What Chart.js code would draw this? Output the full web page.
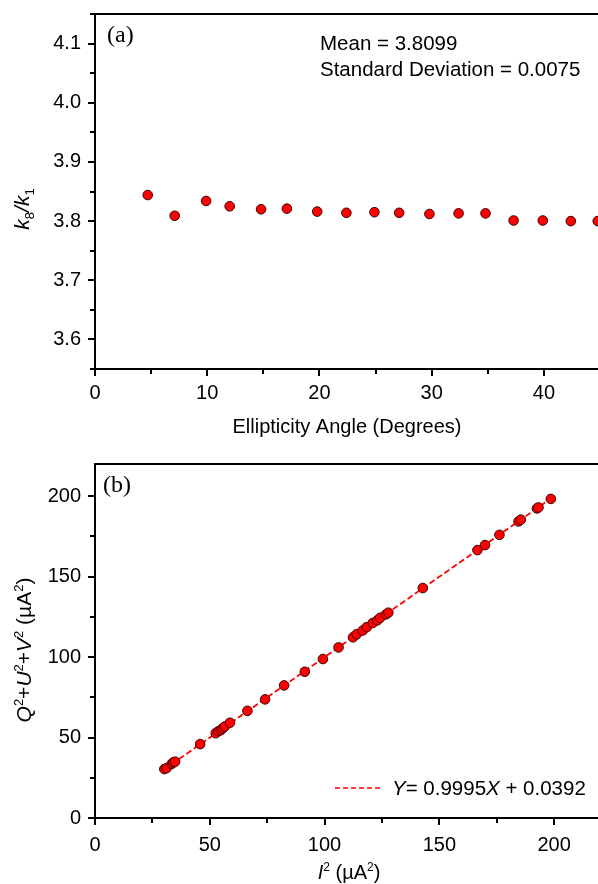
<!DOCTYPE html>
<html>
<head>
<meta charset="utf-8">
<script src="https://cdn.jsdelivr.net/npm/chart.js@4.4.1/dist/chart.umd.min.js"></script>
<style>
  html, body { margin: 0; padding: 0; background: #fff; width: 598px; height: 884px; overflow: hidden; }
  canvas { position: absolute; left: 0; }
  #chartA { top: 0; }
  #chartB { top: 442px; }
</style>
</head>
<body>
<canvas id="chartA" width="640" height="442"></canvas>
<canvas id="chartB" width="640" height="442"></canvas>
<script>
// (a) k8/k1 against ellipticity angle
var angleDeg = [4.7, 7.1, 9.9, 12.0, 14.8, 17.1, 19.8, 22.4, 24.9, 27.1, 29.8, 32.4, 34.8, 37.3, 39.9, 42.4, 44.8];
var ratioK8K1 = [3.844, 3.809, 3.834, 3.825, 3.820, 3.821, 3.816, 3.814, 3.815, 3.814, 3.812, 3.813, 3.813, 3.801, 3.801, 3.800, 3.800];
var angleTicks = { min: 0, max: 45, step: 5, major: 10 };
var ratioTicks = { min: 3.55, max: 4.15, step: 0.05, major: 0.1 };

// (b) Q^2+U^2+V^2 against I^2, with linear fit
var intensitySq = [30.2, 31.2, 33.4, 34.1, 34.9, 45.8, 52.6, 53.7, 54.8, 55.6, 56.6, 58.8,
  66.4, 74.1, 82.4, 91.4, 99.3, 106.1, 112.4, 114.0, 116.6, 118.4, 121.0, 123.0, 124.2,
  126.7, 127.8, 142.8, 166.6, 169.9, 176.2, 184.5, 185.5, 192.5, 193.2, 198.6];
var polarSum = [30.4, 31.0, 33.6, 34.5, 35.0, 45.9, 52.7, 53.9, 54.6, 55.8, 56.9, 59.2,
  66.6, 73.7, 82.4, 90.9, 98.8, 106.0, 112.3, 114.2, 116.5, 118.6, 121.2, 122.8, 124.4,
  126.5, 127.6, 142.9, 166.5, 169.6, 176.0, 184.3, 185.4, 192.4, 193.0, 198.3];
var fitX = [30.2, 198.6];
var fitY = [30.2, 198.5];
var intensityTicks = { min: 0, max: 220, step: 25, major: 50 };
var polarTicks = { min: 0, max: 220, step: 25, major: 50 };

var SANS = '"Liberation Sans", Arial, sans-serif';
var SERIF = '"Liberation Serif", "Times New Roman", serif';

function isMajor(v, major) {
  var r = v / major;
  return Math.abs(r - Math.round(r)) < 1e-6;
}
function inRange(v, scale) {
  return v >= scale.min - 1e-9 && v <= scale.max + 1e-9;
}

// text made of pieces: [text, italic, shift] shift -1 = subscript, 1 = superscript
function richFont(p, size) {
  return (p[1] ? 'italic ' : '') + (p[2] ? Math.round(size * 0.62) : size) + 'px ' + SANS;
}
function richWidth(ctx, parts, size) {
  var w = 0;
  parts.forEach(function (p) {
    ctx.font = richFont(p, size);
    w += ctx.measureText(p[0]).width;
  });
  return w;
}
function drawRich(ctx, parts, x, y, size, center) {
  var cx = center ? x - richWidth(ctx, parts, size) / 2 : x;
  ctx.textAlign = 'left';
  ctx.textBaseline = 'alphabetic';
  parts.forEach(function (p) {
    ctx.font = richFont(p, size);
    var dy = p[2] > 0 ? -size * 0.4 : p[2] < 0 ? size * 0.22 : 0;
    ctx.fillText(p[0], cx, y + dy);
    cx += ctx.measureText(p[0]).width;
  });
}

// frame line on top plus outward major / minor ticks
var frameTicks = {
  id: 'frameTicks',
  afterDraw: function (chart, args, opts) {
    var ctx = chart.ctx, a = chart.chartArea, sx = chart.scales.x, sy = chart.scales.y;
    ctx.save();
    ctx.strokeStyle = '#000';
    ctx.lineWidth = 2;
    ctx.beginPath();
    ctx.moveTo(a.left - 1, a.top);
    ctx.lineTo(a.right + 1, a.top);
    sx.ticks.forEach(function (t) {
      if (!inRange(t.value, sx)) return;
      var p = Math.round(sx.getPixelForValue(t.value));
      var len = isMajor(t.value, opts.xMajor) ? 7 : 5;
      ctx.moveTo(p, a.bottom);
      ctx.lineTo(p, a.bottom + len);
    });
    sy.ticks.forEach(function (t) {
      if (!inRange(t.value, sy)) return;
      var p = Math.round(sy.getPixelForValue(t.value));
      var len = isMajor(t.value, opts.yMajor) ? 7 : 5;
      ctx.moveTo(a.left, p);
      ctx.lineTo(a.left - len, p);
    });
    ctx.stroke();
    ctx.restore();
  }
};

function axisOpts(spec, fixed, horizontal, pad, fmt) {
  return {
    type: 'linear',
    min: spec.min,
    max: spec.max,
    afterFit: function (s) {
      if (horizontal) { s.height = fixed; } else { s.width = fixed; }
      s.paddingTop = 0; s.paddingBottom = 0; s.paddingLeft = 0; s.paddingRight = 0;
    },
    grid: { display: true, drawOnChartArea: false, drawTicks: true, tickLength: 6, color: 'rgba(0,0,0,0)' },
    border: { display: true, color: '#000', width: 2 },
    ticks: {
      stepSize: spec.step,
      includeBounds: false,
      autoSkip: false,
      maxRotation: 0,
      padding: pad,
      color: '#000',
      font: { family: SANS, size: 20 },
      callback: function (v) {
        return (v <= spec.max + 1e-9 && isMajor(v, spec.major)) ? fmt(v) : '';
      }
    }
  };
}

var pointStyle = {
  pointRadius: 4.8,
  pointHoverRadius: 4.8,
  pointBackgroundColor: '#ff0000',
  pointBorderColor: '#3a0000',
  pointBorderWidth: 1
};

// Panel (a)
new Chart(document.getElementById('chartA'), {
  type: 'scatter',
  data: {
    datasets: [Object.assign({
      label: 'k8/k1',
      data: angleDeg.map(function (x, i) { return { x: x, y: ratioK8K1[i] }; })
    }, pointStyle)]
  },
  options: {
    responsive: false,
    animation: false,
    devicePixelRatio: 1,
    layout: { padding: { top: 14, right: 40, left: 0, bottom: 0 } },
    scales: {
      x: axisOpts(angleTicks, 73, true, 6, function (v) { return String(Math.round(v)); }),
      y: axisOpts(ratioTicks, 95, false, 8, function (v) { return v.toFixed(1); })
    },
    plugins: {
      legend: { display: false },
      tooltip: { enabled: false },
      frameTicks: { xMajor: angleTicks.major, yMajor: ratioTicks.major }
    }
  },
  plugins: [frameTicks, {
    id: 'textA',
    afterDraw: function (chart) {
      var ctx = chart.ctx;
      ctx.save();
      ctx.fillStyle = '#000';
      ctx.font = '24px ' + SERIF;
      ctx.textAlign = 'left';
      ctx.fillText('(a)', 107, 42);
      ctx.font = '20.5px ' + SANS;
      ctx.fillText('Mean = 3.8099', 320, 50);
      ctx.fillText('Standard Deviation = 0.0075', 320, 76);
      drawRich(ctx, [['Ellipticity Angle (Degrees)', false, 0]], 347, 433, 20, true);
      ctx.translate(29, 209);
      ctx.rotate(-Math.PI / 2);
      drawRich(ctx, [['k', true, 0], ['8', false, -1], ['/', true, 0], ['k', true, 0], ['1', false, -1]], 0, 0, 21, true);
      ctx.restore();
    }
  }]
});

// Panel (b)
new Chart(document.getElementById('chartB'), {
  type: 'scatter',
  data: {
    datasets: [
      Object.assign({
        label: 'data',
        order: 0,
        data: intensitySq.map(function (x, i) { return { x: x, y: polarSum[i] }; })
      }, pointStyle),
      {
        label: 'fit',
        order: 1,
        showLine: true,
        data: fitX.map(function (x, i) { return { x: x, y: fitY[i] }; }),
        borderColor: '#ff0000',
        borderWidth: 1.8,
        borderDash: [6, 3],
        pointRadius: 0,
        pointHoverRadius: 0
      }
    ]
  },
  options: {
    responsive: false,
    animation: false,
    devicePixelRatio: 1,
    layout: { padding: { top: 22, right: 40, left: 0, bottom: 0 } },
    scales: {
      x: axisOpts(intensityTicks, 66, true, 9, function (v) { return String(Math.round(v)); }),
      y: axisOpts(polarTicks, 95, false, 8, function (v) { return String(Math.round(v)); })
    },
    plugins: {
      legend: { display: false },
      tooltip: { enabled: false },
      frameTicks: { xMajor: intensityTicks.major, yMajor: polarTicks.major }
    }
  },
  plugins: [frameTicks, {
    id: 'textB',
    afterDraw: function (chart) {
      var ctx = chart.ctx;
      ctx.save();
      ctx.fillStyle = '#000';
      ctx.font = '24px ' + SERIF;
      ctx.textAlign = 'left';
      ctx.fillText('(b)', 103, 50);
      // legend entry for the fit line
      ctx.strokeStyle = '#ff0000';
      ctx.lineWidth = 1.5;
      ctx.setLineDash([5, 3]);
      ctx.beginPath();
      ctx.moveTo(335, 346);
      ctx.lineTo(383, 346);
      ctx.stroke();
      ctx.setLineDash([]);
      drawRich(ctx, [['Y', true, 0], ['= 0.9995', false, 0], ['X', true, 0], [' + 0.0392', false, 0]], 392, 353, 20.5, false);
      drawRich(ctx, [['I', true, 0], ['2', false, 1], [' (\u00b5A', false, 0], ['2', false, 1], [')', false, 0]], 349, 437, 20, true);
      ctx.translate(31, 208);
      ctx.rotate(-Math.PI / 2);
      drawRich(ctx, [['Q', true, 0], ['2', false, 1], ['+', false, 0], ['U', true, 0], ['2', false, 1], ['+', false, 0],
        ['V', true, 0], ['2', false, 1], [' (\u00b5A', false, 0], ['2', false, 1], [')', false, 0]], 0, 0, 21, true);
      ctx.restore();
    }
  }]
});
</script>
</body>
</html>
